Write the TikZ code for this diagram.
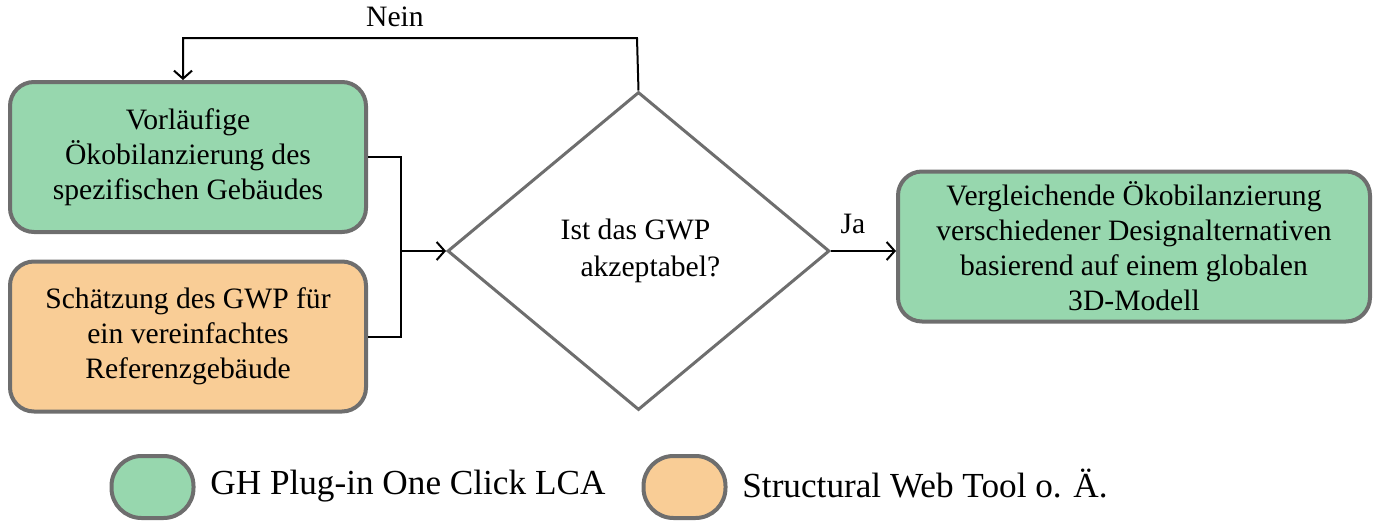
\documentclass[tikz,border=0pt]{standalone}
\usepackage{fontspec}
\setmainfont{Liberation Serif}
\usetikzlibrary{shapes.geometric,arrows.meta}
\definecolor{boxgreen}{HTML}{97D7AE}
\definecolor{boxorange}{HTML}{F9CD96}
\definecolor{boxborder}{HTML}{6E6E6E}
\tikzset{
  box/.style={draw=boxborder, line width=2pt, rounded corners=12pt, align=center,
    minimum width=178pt, minimum height=75pt, inner sep=2pt,
    font=\fontsize{14.8}{17.5}\selectfont},
  greenbox/.style={box, fill=boxgreen},
  orangebox/.style={box, fill=boxorange},
  decision/.style={draw=boxborder, line width=1.5pt, diamond, inner sep=0pt, align=center,
    minimum width=191pt, minimum height=159pt, font=\fontsize{14.8}{18.5}\selectfont},
  conn/.style={line width=1pt, black},
  arr/.style={conn, -{Straight Barb[length=4pt,width=9pt,line width=1pt]}},
  lab/.style={font=\fontsize{14.8}{17}\selectfont, inner sep=1pt},
  legshape/.style={draw=boxborder, line width=2pt, rounded corners=15pt, minimum width=41pt, minimum height=31pt},
  legtext/.style={font=\fontsize{17.6}{20}\selectfont, anchor=west, inner sep=0pt}
}
\begin{document}
\begin{tikzpicture}[x=0.5pt,y=-0.5pt]
\useasboundingbox (0,0) rectangle (1382,525);
\node[greenbox] (prelim) at (188,157) {Vorläufige\\Ökobilanzierung des\\spezifischen Gebäudes};
\node[orangebox] (estimate) at (188,336.5) {Schätzung des GWP für\\ein vereinfachtes\\Referenzgebäude};
\node[decision] (gwp) at (638.5,251) {\hspace{-0.2em}Ist das GWP\\\hspace{0.8em}akzeptabel?};
\node[greenbox, minimum width=236pt] (compare) at (1134,246.5) {Vergleichende Ökobilanzierung\\verschiedener Designalternativen\\basierend auf einem globalen\\3D-Modell};
\coordinate (join) at (401,251);
\coordinate (ntop) at (637,38);
\coordinate (nleft) at (183,38);
\draw[conn] (prelim.east |- 0,157) -| (join);
\draw[conn] (estimate.east |- 0,337) -| (join);
\draw[arr] (join) -- (gwp.west);
\draw[arr] (gwp.north) -- (ntop) -- (nleft) -- (nleft |- prelim.north);
\node[lab] (nein) at (395,17) {Nein};
\draw[arr] (gwp.east) -- (compare.west |- gwp.east);
\node[lab] (ja) at (853,224) {Ja};
\node[legshape, fill=boxgreen] (leg1) at (152.5,487) {};
\node[legtext] (leg1t) at (210,486) {GH Plug-in One Click LCA};
\node[legshape, fill=boxorange] (leg2) at (684.5,487) {};
\node[legtext] (leg2t) at (742,484) {Structural Web Tool o. Ä.};
\end{tikzpicture}
\end{document}
